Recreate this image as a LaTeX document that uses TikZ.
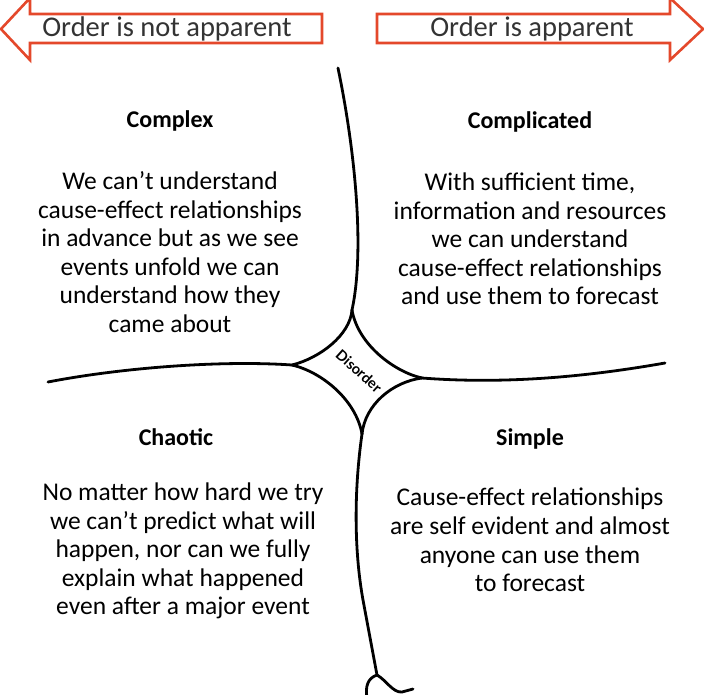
\documentclass[tikz,border=0pt]{standalone}
\usepackage{fontspec}
\setmainfont{Carlito}
\newfontfamily\disfont{Lato}
\usetikzlibrary{positioning}
\definecolor{arrowred}{RGB}{228,72,43}

\begin{document}
\begin{tikzpicture}[x=1pt, y=-1pt,
    boundary/.style={line width=2.8pt, line cap=round},
    banner/.style={draw=arrowred, line width=2.6pt, fill=white},
    bannertext/.style={font=\fontsize{28.5}{32}\selectfont, text=black!80},
    domaintitle/.style={font=\bfseries\fontsize{24}{28}\selectfont},
    desc/.style={align=center, font=\fontsize{25.5}{28.6}\selectfont}]
    \useasboundingbox (0,0) rectangle (704,694);
    % order arrows
    \draw[banner] (322,14) -- (30,14) -- (30,-2) -- (1,29) -- (30,60) -- (30,43) -- (322,43) -- cycle;
    \draw[banner] (377,14) -- (670,14) -- (670,-2) -- (703,29) -- (670,60) -- (670,43) -- (377,43) -- cycle;
    \node[bannertext] (notapparent) at (167,29) {Order is not apparent};
    \node[bannertext] (apparent) at (532,29) {Order is apparent};
    % boundaries
    \coordinate (topend) at (338,68);
    \coordinate (leftend) at (48,382);
    \coordinate (rightend) at (665,363);
    \coordinate (fold) at (377,675);
    \coordinate (N) at (352,310);
    \coordinate (W) at (292,365);
    \coordinate (E) at (422,378);
    \coordinate (S) at (362,434);
    \draw[boundary] (topend) .. controls (355,150) and (365,250) .. (N);
    \draw[boundary] (leftend) .. controls (120,368) and (220,360) .. (W);
    \draw[boundary] (E) .. controls (500,384) and (580,378) .. (rightend);
    \draw[boundary] (S) .. controls (354,490) and (354,550) .. (363,600) -- (fold);
    \draw[boundary] (fold) .. controls (368,678) and (365,686) .. (367,698);
    \draw[boundary] (fold) .. controls (386,680) and (393,693) .. (402,692) -- (413,689);
    % disorder
    \draw[boundary] (N) .. controls (350,335) and (320,358) .. (W);
    \draw[boundary] (W) .. controls (322,372) and (356,400) .. (S);
    \draw[boundary] (N) .. controls (358,345) and (395,372) .. (E);
    \draw[boundary] (E) .. controls (392,382) and (365,405) .. (S);
    \node[font=\disfont\bfseries\fontsize{14.5}{16}\selectfont, rotate=-42, inner sep=0pt] (disorder) at (359,371) {Disorder};
    % domains
    \node[domaintitle] (complex) at (170,121) {Complex};
    \node[desc] (complexdesc) at (170,252) {We can’t understand\\cause-effect relationships\\in advance but as we see\\events unfold we can\\understand how they\\came about};
    \node[domaintitle] (complicated) at (530,122) {Complicated};
    \node[desc] (complicateddesc) at (530,239) {With sufficient time,\\information and resources\\we can understand\\cause-effect relationships\\and use them to forecast};
    \node[domaintitle] (chaotic) at (176,437) {Chaotic};
    \node[desc] (chaoticdesc) at (183,551) {No matter how hard we try\\we can’t predict what will\\happen, nor can we fully\\explain what happened\\even after a major event};
    \node[domaintitle] (simple) at (530,439) {Simple};
    \node[desc] (simpledesc) at (530,540) {Cause-effect relationships\\are self evident and almost\\anyone can use them\\to forecast};
\end{tikzpicture}
\end{document}
